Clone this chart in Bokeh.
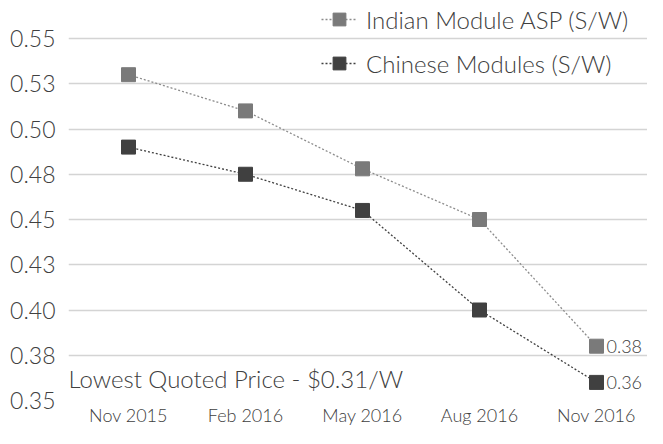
from bokeh.plotting import figure
from bokeh.models import Range1d, FixedTicker, Legend, LegendItem, Label
from bokeh.embed import file_html
from bokeh.resources import INLINE
from bokeh.core.properties import value

# ---- data ----
months = ["Nov 2015", "Feb 2016", "May 2016", "Aug 2016", "Nov 2016"]
indian = [0.530, 0.510, 0.478, 0.450, 0.380]
chinese = [0.490, 0.475, 0.455, 0.400, 0.360]
y_ticks = [0.35, 0.375, 0.40, 0.425, 0.45, 0.475, 0.50, 0.525, 0.55]
y_tick_labels = ["0.35", "0.38", "0.40", "0.43", "0.45", "0.48", "0.50", "0.53", "0.55"]
series_names = ["Indian Module ASP (S/W)", "Chinese Modules (S/W)"]
note = "Lowest Quoted Price - $0.31/W"

FONT = "Lato Light"
TXT = "#404040"
IND_C = "#7a7a7a"
IND_L = "#8c8c8c"
CHN_C = "#404040"

xs = list(range(len(months)))

W, H = 647, 428
LEFT, BOTTOM = 68, 28
STEP = 117.0          # px per month
X0 = 128.0            # px of first month
Y_TOP_PX = 38.0       # px of 0.55
frame_h = H - BOTTOM
y_per_px = (y_ticks[-1] - y_ticks[0]) / (frame_h - Y_TOP_PX)

p = figure(width=W, height=H, output_backend="svg", toolbar_location=None,
           x_range=Range1d(-(X0 - LEFT) / STEP, (W - X0) / STEP),
           y_range=Range1d(y_ticks[0], y_ticks[-1] + Y_TOP_PX * y_per_px),
           min_border_left=LEFT, min_border_right=0, min_border_top=0,
           min_border_bottom=BOTTOM)
p.outline_line_color = None
p.background_fill_color = "white"

# axes
p.xaxis.ticker = FixedTicker(ticks=xs)
p.xaxis.major_label_overrides = {i: m for i, m in zip(xs, months)}
p.xaxis.major_tick_line_color = None
p.xaxis.minor_tick_line_color = None
p.xaxis.major_tick_out = 0
p.xaxis.axis_line_color = None
p.xaxis.major_label_standoff = 3
p.xaxis.major_label_text_font = FONT
p.xaxis.major_label_text_font_size = "18px"
p.xaxis.major_label_text_color = TXT

p.yaxis.ticker = FixedTicker(ticks=y_ticks)
p.yaxis.major_label_overrides = {t: l for t, l in zip(y_ticks, y_tick_labels)}
p.yaxis.major_tick_line_color = None
p.yaxis.minor_tick_line_color = None
p.yaxis.major_tick_out = 0
p.yaxis.axis_line_color = None
p.yaxis.major_label_standoff = 13
p.yaxis.major_label_text_font = FONT
p.yaxis.major_label_text_font_size = "23px"
p.yaxis.major_label_text_color = TXT

p.xgrid.visible = False
p.ygrid.ticker = FixedTicker(ticks=y_ticks)
p.ygrid.grid_line_color = "#d4d4d4"
p.ygrid.grid_line_width = 1.5

# series
l1 = p.line(xs, indian, line_color=IND_L, line_width=1.3, line_dash="2 2")
s1 = p.scatter(xs, indian, marker="square", size=14, fill_color=IND_C, line_color=IND_C)
l2 = p.line(xs, chinese, line_color=CHN_C, line_width=1.3, line_dash="2 2")
s2 = p.scatter(xs, chinese, marker="square", size=14, fill_color=CHN_C, line_color=CHN_C)

# end-point data labels
p.text(x=[xs[-1], xs[-1]], y=[indian[-1], chinese[-1]],
       text=[f"{indian[-1]:.2f}", f"{chinese[-1]:.2f}"],
       x_offset=10, text_baseline="middle", text_align="left",
       text_font=value(FONT), text_font_size="18px", text_color=TXT)

# annotation
p.add_layout(Label(x=0, y=22, x_units="screen", y_units="screen", text=note,
                   text_baseline="middle", text_font=FONT, text_font_size="24px",
                   text_color=TXT))

legend = Legend(items=[LegendItem(label=series_names[0], renderers=[l1, s1]),
                       LegendItem(label=series_names[1], renderers=[l2, s2])],
                location=(253, frame_h - 79), orientation="vertical",
                glyph_width=36, glyph_height=32, label_height=32, spacing=12,
                padding=0, margin=0, label_standoff=9,
                label_text_font=FONT, label_text_font_size="24px", label_text_color=TXT,
                border_line_color=None, background_fill_alpha=0)
p.add_layout(legend)

open("out.html", "w").write(file_html(p, INLINE))
